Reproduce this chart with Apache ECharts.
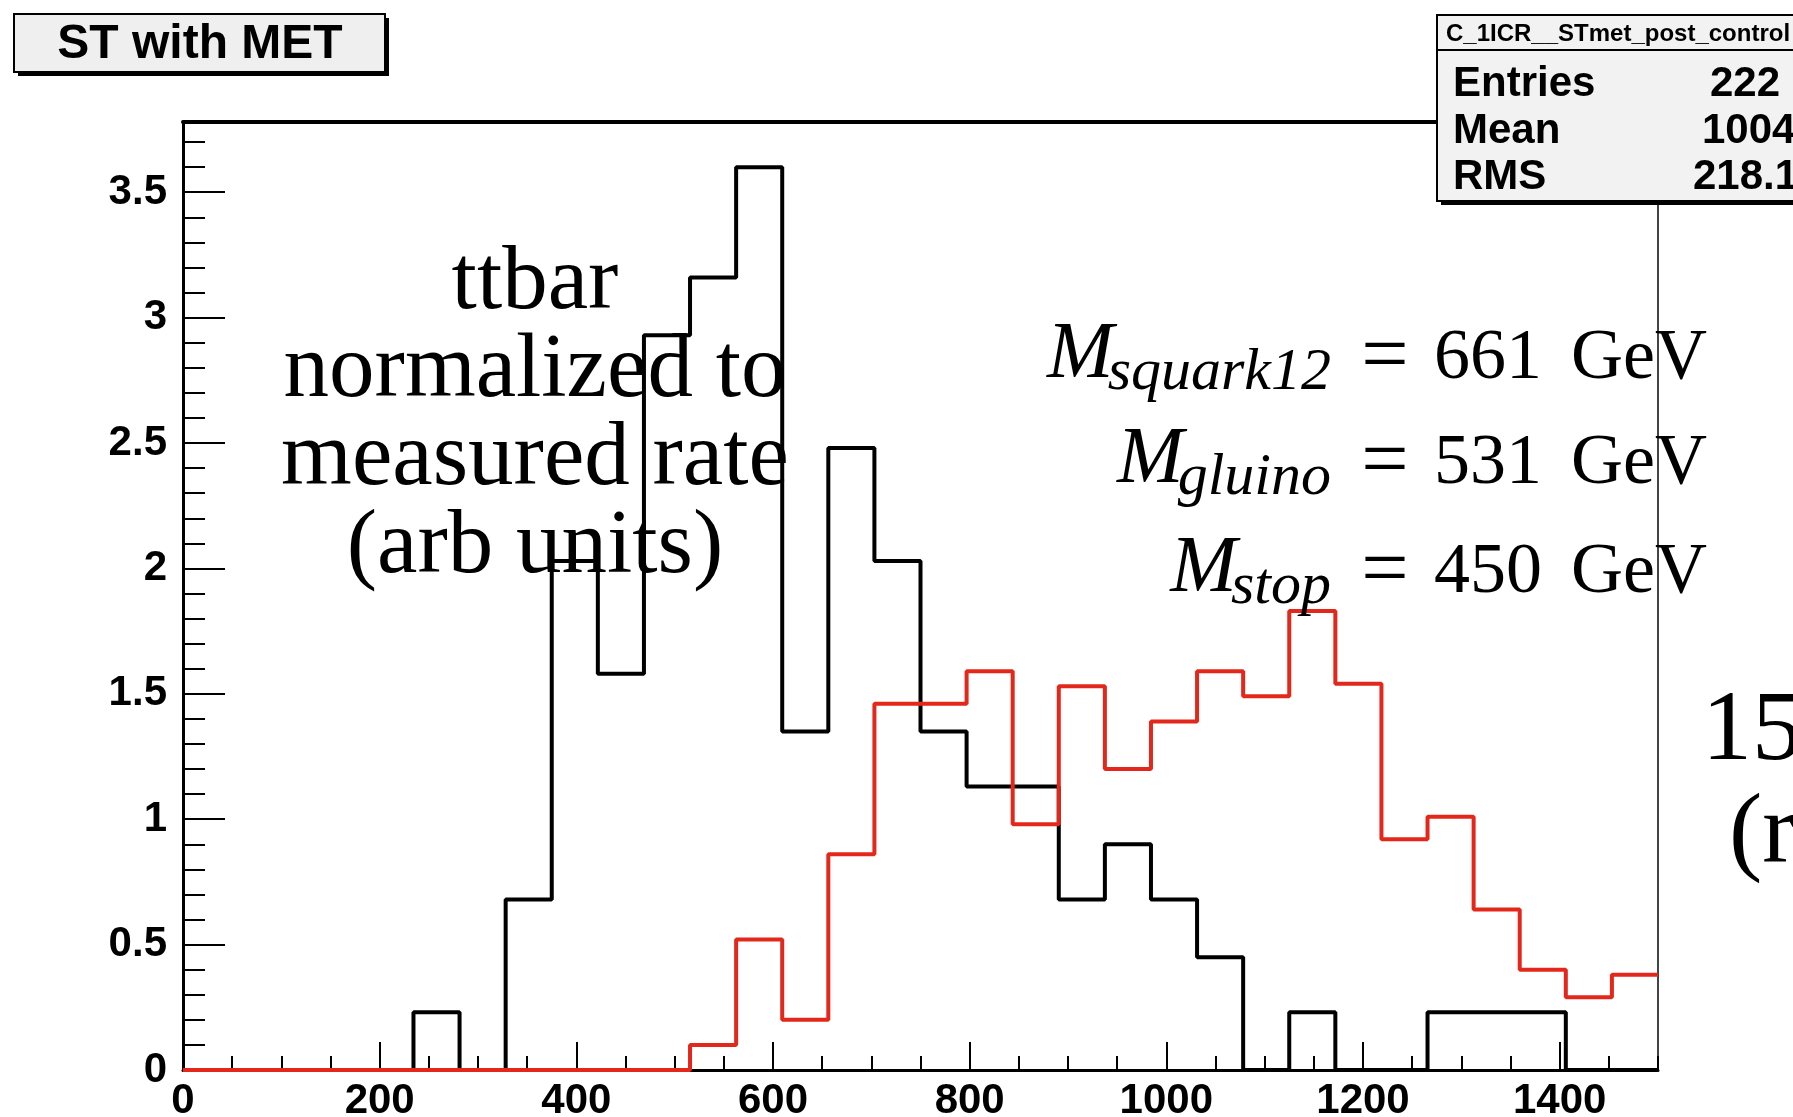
<!DOCTYPE html>
<html><head><meta charset="utf-8">
<script src="https://cdn.jsdelivr.net/npm/echarts@6/dist/echarts.min.js"></script>
<style>html,body{margin:0;padding:0;background:#fff;}#c{width:1793px;height:1117px;}</style>
</head><body><div id="c"></div>
<script>
// ---- data ----
const binLow = 0;
const binHigh = 1500;
const ttbar = [0,0,0,0,0,0.23,0,0.68,2.03,1.58,2.93,3.16,3.60,1.35,2.48,2.03,1.35,1.13,1.13,0.68,0.90,0.68,0.45,0,0.23,0,0,0.23,0.23,0.23,0,0];
const signal = [0,0,0,0,0,0,0,0,0,0,0,0.10,0.52,0.20,0.86,1.46,1.46,1.59,0.98,1.53,1.20,1.39,1.59,1.49,1.83,1.54,0.92,1.01,0.64,0.40,0.29,0.38];
const xMajorStep = 200;
const xMinorStep = 50;
const yMajorStep = 0.5;
const yMinorStep = 0.1;
const yMax = 3.78;
const titleText = 'ST with MET';
const statsHeader = 'C_1ICR__STmet_post_control';
const statsNames = ['Entries', 'Mean', 'RMS'];
const statsValues = ['222', '1004', '218.1'];
const ttbarNote = ['ttbar', 'normalized to', 'measured rate', '(arb units)'];
const massNames = ['squark12', 'gluino', 'stop'];
const massValues = ['661', '531', '450'];
const massUnit = 'GeV';
const cutText = ['15', '(r'];

function steps(vals) {
  const w = (binHigh - binLow) / vals.length;
  const pts = [];
  vals.forEach((v, i) => { pts.push([binLow + i * w, v]); pts.push([binLow + (i + 1) * w, v]); });
  return pts;
}

const SANS = 'Liberation Sans';
const SERIF = 'Liberation Serif';

const graphics = [];
// title box
graphics.push({type:'rect', shape:{x:18, y:18, width:371, height:58}, style:{fill:'#000'}, z:10});
graphics.push({type:'rect', shape:{x:14, y:14, width:371, height:58}, style:{fill:'#efefef', stroke:'#000', lineWidth:2}, z:11});
graphics.push({type:'text', x:200, y:45, style:{text:titleText, font:'bold 48px "'+SANS+'"', fill:'#000', align:'center', verticalAlign:'middle'}, z:12});
// stats box
graphics.push({type:'rect', shape:{x:1441, y:19, width:400, height:186}, style:{fill:'#000'}, z:10});
graphics.push({type:'rect', shape:{x:1437, y:15, width:400, height:186}, style:{fill:'#f2f2f2', stroke:'#000', lineWidth:2}, z:11});
graphics.push({type:'line', shape:{x1:1437, y1:50, x2:1800, y2:50}, style:{stroke:'#000', lineWidth:2}, z:12});
graphics.push({type:'text', x:1446, y:34, style:{text:statsHeader, font:'bold 24px "'+SANS+'"', fill:'#000', align:'left', verticalAlign:'middle'}, z:12});
const rowBase = [99, 146, 192];
const valX = [1710, 1702, 1693];
statsNames.forEach((n, i) => {
  graphics.push({type:'text', x:1453, y:rowBase[i]-15, style:{text:n, font:'bold 42px "'+SANS+'"', fill:'#000', align:'left', verticalAlign:'middle'}, z:12});
  graphics.push({type:'text', x:valX[i], y:rowBase[i]-15, style:{text:statsValues[i], font:'bold 42px "'+SANS+'"', fill:'#000', align:'left', verticalAlign:'middle'}, z:12});
});
// ttbar note
graphics.push({type:'text', x:535, y:240, style:{text:ttbarNote.join('\n'), font:'91px "'+SERIF+'"', lineHeight:88, fill:'#000', align:'center', verticalAlign:'top'}, z:12});
// mass labels
const massBase = [383, 488, 597];
const ctx = document.createElement('canvas').getContext('2d');
ctx.font = 'italic 60px "' + SERIF + '"';
massNames.forEach((n, i) => {
  const b = massBase[i];
  const w = ctx.measureText(n).width;
  graphics.push({type:'text', x:1331, y:b + 10 - 20, style:{text:n, font:'italic 60px "'+SERIF+'"', fill:'#000', align:'right', verticalAlign:'middle'}, z:12});
  graphics.push({type:'text', x:1331 - w + 6, y:b - 27, style:{text:'M', font:'italic 80px "'+SERIF+'"', fill:'#000', align:'right', verticalAlign:'middle'}, z:12});
  graphics.push({type:'text', x:1385, y:b - 23, style:{text:'=', font:'84px "'+SERIF+'"', fill:'#000', align:'center', verticalAlign:'middle'}, z:12});
  graphics.push({type:'text', x:1434, y:b - 24, style:{text:massValues[i], font:'72px "'+SERIF+'"', fill:'#000', align:'left', verticalAlign:'middle'}, z:12});
  graphics.push({type:'text', x:1707, y:b - 24, style:{text:massUnit, font:'72px "'+SERIF+'"', fill:'#000', align:'right', verticalAlign:'middle'}, z:12});
});
// cut-off text at right edge
graphics.push({type:'text', x:1702, y:767 - 34, style:{text:cutText[0], font:'100px "'+SERIF+'"', fill:'#000', align:'left', verticalAlign:'middle'}, z:12});
graphics.push({type:'text', x:1729, y:870 - 34, style:{text:cutText[1], font:'100px "'+SERIF+'"', fill:'#000', align:'left', verticalAlign:'middle'}, z:12});

const chart = echarts.init(document.getElementById('c'), null, {renderer:'canvas'});
const labelStyle = {fontFamily:SANS, fontWeight:'bold', fontSize:42, color:'#000'};
chart.setOption({
  animation:false,
  backgroundColor:'#fff',
  grid:{left:183, right:135, top:122, bottom:47, containLabel:false, outerBoundsMode:'none'},
  xAxis:[
    {type:'value', min:binLow, max:binHigh, interval:xMajorStep, position:'bottom',
     axisLine:{show:true, onZero:false, lineStyle:{color:'#000', width:3}},
     axisTick:{show:true, inside:true, length:28, lineStyle:{color:'#000', width:2}},
     axisLabel:Object.assign({showMaxLabel:false, margin:10, formatter:function(v){return String(v);}}, labelStyle),
     splitLine:{show:false}},
    {type:'value', min:binLow, max:binHigh, interval:xMinorStep, position:'bottom',
     axisLine:{show:false}, axisTick:{show:true, inside:true, length:14, lineStyle:{color:'#000', width:2}},
     axisLabel:{show:false}, splitLine:{show:false}},
    {type:'value', min:binLow, max:binHigh, position:'top',
     axisLine:{show:true, onZero:false, lineStyle:{color:'#000', width:4}}, axisTick:{show:false},
     axisLabel:{show:false}, splitLine:{show:false}}
  ],
  yAxis:[
    {type:'value', min:0, max:yMax, interval:yMajorStep, position:'left',
     axisLine:{show:true, onZero:false, lineStyle:{color:'#000', width:3}},
     axisTick:{show:true, inside:true, length:42, lineStyle:{color:'#000', width:2}},
     axisLabel:Object.assign({showMaxLabel:false, margin:16, formatter:function(v){return String(v);}}, labelStyle),
     splitLine:{show:false}},
    {type:'value', min:0, max:yMax, interval:yMinorStep, position:'left',
     axisLine:{show:false}, axisTick:{show:true, inside:true, length:22, lineStyle:{color:'#000', width:2}},
     axisLabel:{show:false}, splitLine:{show:false}},
    {type:'value', min:0, max:yMax, position:'right',
     axisLine:{show:true, onZero:false, lineStyle:{color:'#444', width:2}}, axisTick:{show:false},
     axisLabel:{show:false}, splitLine:{show:false}}
  ],
  series:[
    {type:'line', name:'ttbar', data:steps(ttbar), xAxisIndex:0, yAxisIndex:0, showSymbol:false, symbol:'none',
     lineStyle:{color:'#000', width:4}, z:3},
    {type:'line', name:'signal', data:steps(signal), xAxisIndex:0, yAxisIndex:0, showSymbol:false, symbol:'none',
     lineStyle:{color:'#e3281b', width:4}, z:4}
  ],
  graphic:graphics
});
</script>
</body></html>
